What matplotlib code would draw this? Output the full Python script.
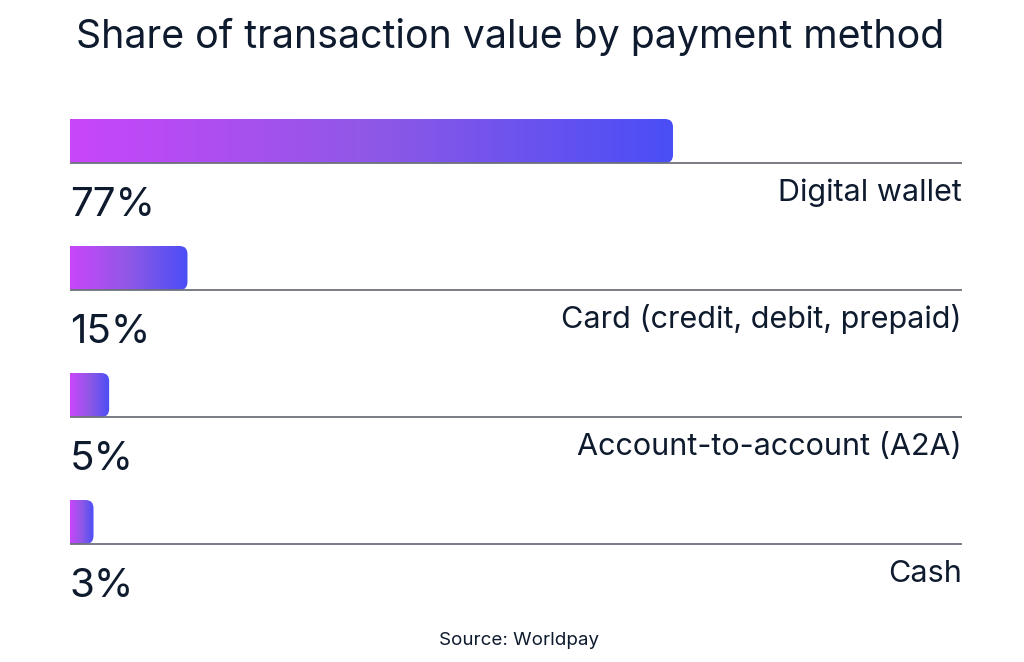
import numpy as np
import matplotlib
matplotlib.use("Agg")
import matplotlib.pyplot as plt
from matplotlib.path import Path
from matplotlib.patches import PathPatch
from matplotlib.colors import LinearSegmentedColormap

categories = ["Digital wallet", "Card (credit, debit, prepaid)", "Account-to-account (A2A)", "Cash"]
values = [77, 15, 5, 3]
title = "Share of transaction value by payment method"
source = "Source: Worldpay"

W, H = 1024, 662
fig = plt.figure(figsize=(W / 100, H / 100), dpi=100)
ax = fig.add_axes([0, 0, 1, 1])
ax.set_axis_off()

px_per_pct = 603 / 77.0
row_px = 127.0
x_left_px = 70
line_end_px = 962
first_line_px = 163

FONT = "Inter"
text_color = "#0e1a2d"
line_color = "#6e727c"
cmap = LinearSegmentedColormap.from_list("g", ["#c946fb", "#8f58e6", "#4a4ef6"])

bar_h = 44 / row_px
rx = 8 / px_per_pct
ry = 8 / row_px
line_x1 = (line_end_px - x_left_px) / px_per_pct

def right_rounded(x0, x1, y0, y1, rx, ry):
    rx = min(rx, (x1 - x0))
    verts = [(x0, y0), (x1 - rx, y0), (x1, y0), (x1, y0 + ry),
             (x1, y1 - ry), (x1, y1), (x1 - rx, y1), (x0, y1), (x0, y0)]
    codes = [Path.MOVETO, Path.LINETO, Path.CURVE3, Path.CURVE3,
             Path.LINETO, Path.CURVE3, Path.CURVE3, Path.LINETO, Path.CLOSEPOLY]
    return Path(verts, codes)

grad = np.linspace(0, 1, 256).reshape(1, -1)
for i, (cat, v) in enumerate(zip(categories, values)):
    y1 = i
    y0 = i - bar_h
    patch = PathPatch(right_rounded(0, v, y0, y1, rx, ry), facecolor="none", edgecolor="none")
    ax.add_patch(patch)
    im = ax.imshow(grad, cmap=cmap, aspect="auto", extent=(0, v, y1, y0),
                   interpolation="bilinear", zorder=2)
    im.set_clip_path(patch)
    ax.plot([0, line_x1], [i, i], color=line_color, lw=1.3, zorder=3, solid_capstyle="butt")
    ax.text(0, i + 53 / row_px, f"{v}%", fontsize=29, family=FONT, color=text_color,
            ha="left", va="baseline")
    ax.text(line_x1, i + 38 / row_px, cat, fontsize=22, family=FONT, color=text_color,
            ha="right", va="baseline")

fig.text(510 / W, 1 - 48 / H, title, fontsize=28.3, family=FONT, color=text_color,
         ha="center", va="baseline")
fig.text(519 / W, 1 - 645 / H, source, fontsize=13.5, family=FONT, color=text_color,
         ha="center", va="baseline")

ax.set_xlim(-x_left_px / px_per_pct, (W - x_left_px) / px_per_pct)
ax.set_ylim((H - first_line_px) / row_px, -first_line_px / row_px)
fig.savefig("out.png", dpi=100, facecolor="white")
